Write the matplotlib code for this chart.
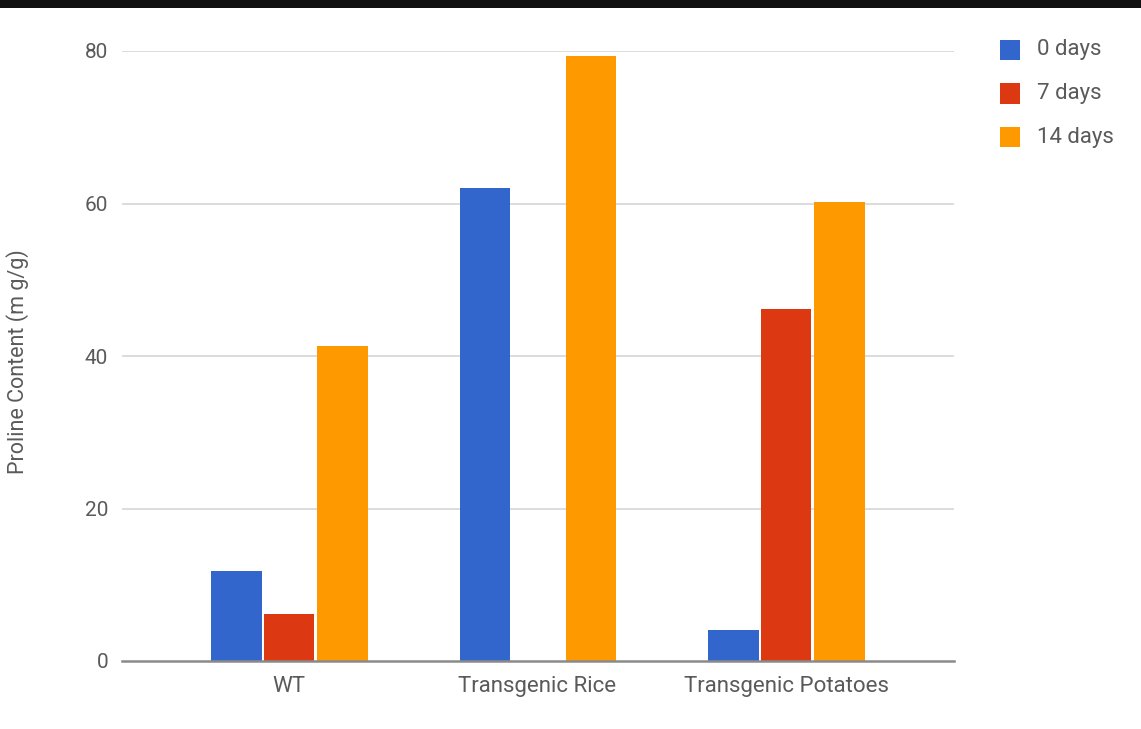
import matplotlib.pyplot as plt
import numpy as np
from matplotlib.patches import Rectangle

plt.rcParams['font.family'] = ['Roboto', 'DejaVu Sans']

categories = ["WT", "Transgenic Rice", "Transgenic Potatoes"]
series_names = ["0 days", "7 days", "14 days"]
days_0 = [11.8, 62.0, 4.1]
days_7 = [6.2, 0.0, 46.2]
days_14 = [41.3, 79.3, 60.2]
y_ticks = [0, 20, 40, 60, 80]

COLORS = ["#3366CC", "#DC3912", "#FF9900"]
GRID = "#D6D6D6"
TEXT = "#5A5A5A"
W, H = 1141, 729

fig = plt.figure(figsize=(W / 100, H / 100), dpi=100)
fig.patch.set_facecolor("white")

# dark strip along the top edge
fig.patches.append(Rectangle((0, 1 - 8 / H), 1, 8 / H, transform=fig.transFigure,
                             facecolor="#111111", edgecolor="none", zorder=10))

ax = fig.add_axes([122 / W, 68 / H, 832 / W, 610 / H])

x = np.arange(len(categories))
width = 0.203
offsets = [-0.212, 0.0, 0.215]
for vals, off, color in zip([days_0, days_7, days_14], offsets, COLORS):
    ax.bar(x + off, vals, width=width, color=color, zorder=3)

ax.set_xlim(-0.672, 2.676)
ax.set_ylim(0, 80)

for h in y_ticks[1:]:
    ax.axhline(h, color=GRID, lw=1.2, zorder=1)

for s in ["top", "right", "left"]:
    ax.spines[s].set_visible(False)
ax.spines["bottom"].set_color("#8A8A8A")
ax.spines["bottom"].set_linewidth(1.8)
ax.spines["bottom"].set_zorder(4)

ax.set_yticks(y_ticks)
ax.set_yticklabels([str(t) for t in y_ticks], fontsize=15, color=TEXT)
ax.set_xticks(x)
ax.set_xticklabels(categories, fontsize=16, color=TEXT)
ax.tick_params(axis="y", length=0, pad=10)
ax.tick_params(axis="x", length=0, pad=11)

fig.text(18 / W, 1 - 362 / H, "Proline Content (m g/g)", rotation=90,
         ha="center", va="center", fontsize=15.5, color=TEXT)

# legend: colour swatch + label per series
for i, (name, color) in enumerate(zip(series_names, COLORS)):
    yc = 50 + i * 43.5
    fig.patches.append(Rectangle((1000 / W, 1 - (yc + 10) / H), 20 / W, 20 / H,
                                 transform=fig.transFigure, facecolor=color,
                                 edgecolor="none"))
    fig.text(1037 / W, 1 - yc / H, name, ha="left", va="center",
             fontsize=16, color=TEXT)

fig.savefig("out.png", dpi=100)
